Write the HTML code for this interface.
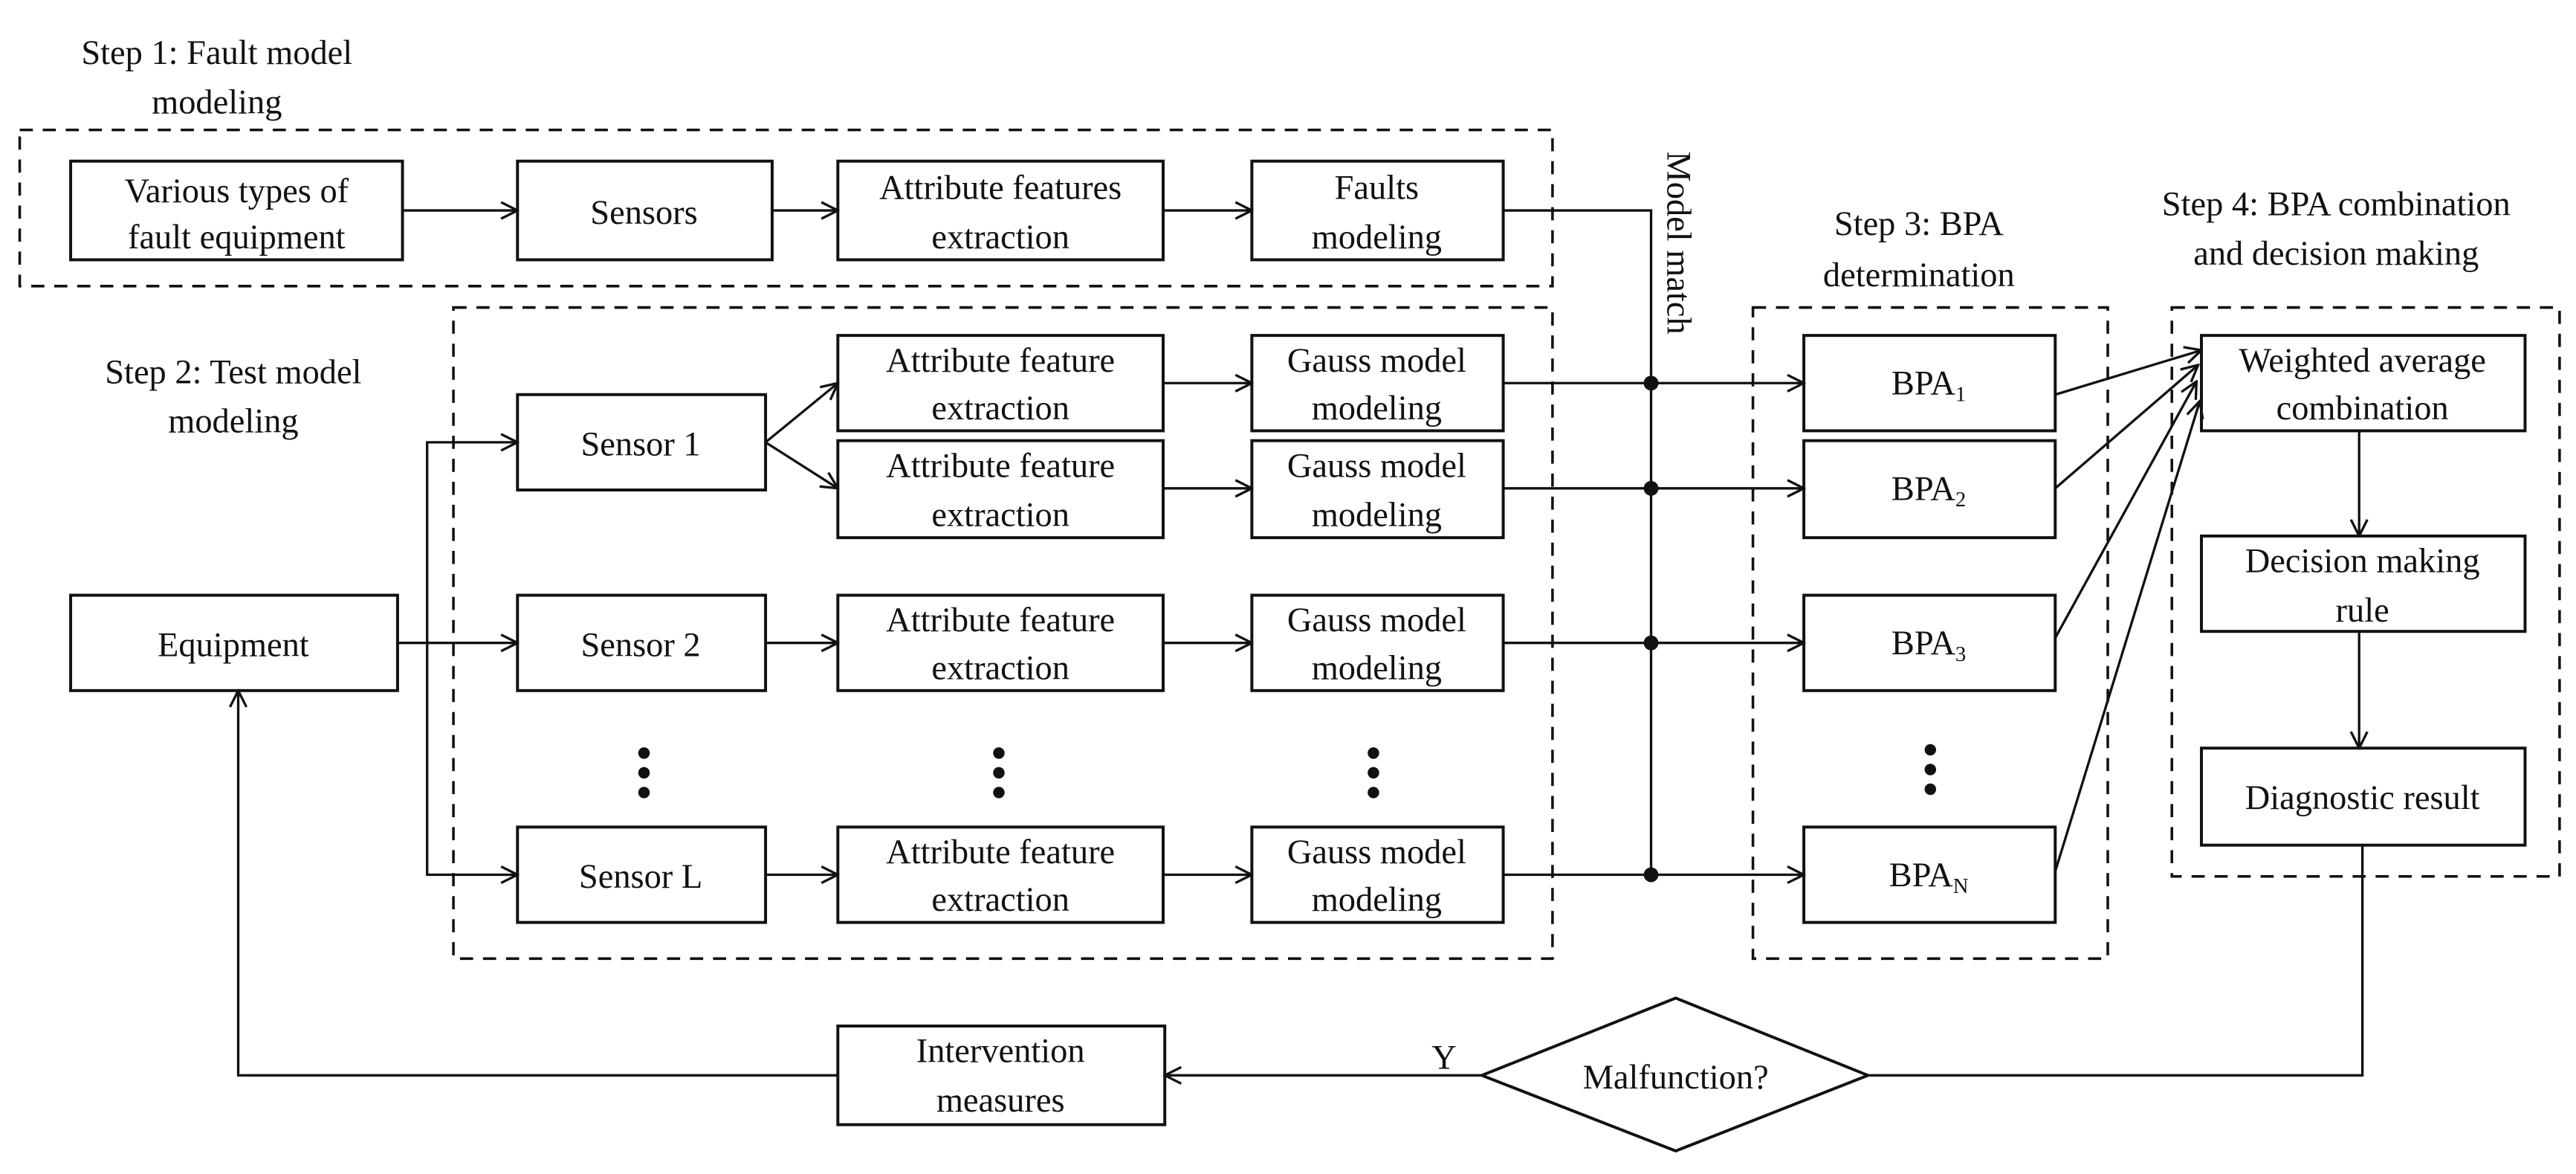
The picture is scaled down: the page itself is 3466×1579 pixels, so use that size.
<!DOCTYPE html>
<html><head><meta charset="utf-8"><style>
html,body{margin:0;padding:0;background:#fff;width:3466px;height:1579px;overflow:hidden}
svg{display:block}
text{font-family:"Liberation Serif",serif;font-size:21px;fill:#111}
</style></head><body>
<svg width="3466" height="1579" viewBox="0 0 1568 714" preserveAspectRatio="none" xmlns="http://www.w3.org/2000/svg">
<defs>
<marker id="a" viewBox="0 0 12 12" refX="11" refY="6" markerWidth="12" markerHeight="12" markerUnits="userSpaceOnUse" orient="auto">
<path d="M1,1 L11,6 L1,11" fill="none" stroke="#111" stroke-width="1.5"/>
</marker>
</defs>
<g fill="none" stroke="#111" stroke-width="1.6" stroke-dasharray="8,6">
<rect x="12" y="79" width="933" height="95"/>
<rect x="276" y="187" width="669" height="396"/>
<rect x="1067" y="187" width="216" height="396"/>
<rect x="1322" y="187" width="236" height="346"/>
</g>
<g fill="#fff" stroke="#111" stroke-width="1.8">
<rect x="43" y="98" width="202" height="60"/>
<rect x="315" y="98" width="155" height="60"/>
<rect x="510" y="98" width="198" height="60"/>
<rect x="762" y="98" width="153" height="60"/>
<rect x="315" y="240" width="151" height="58"/>
<rect x="315" y="362" width="151" height="58"/>
<rect x="315" y="503" width="151" height="58"/>
<rect x="510" y="204" width="198" height="58"/>
<rect x="510" y="268" width="198" height="59"/>
<rect x="510" y="362" width="198" height="58"/>
<rect x="510" y="503" width="198" height="58"/>
<rect x="762" y="204" width="153" height="58"/>
<rect x="762" y="268" width="153" height="59"/>
<rect x="762" y="362" width="153" height="58"/>
<rect x="762" y="503" width="153" height="58"/>
<rect x="43" y="362" width="199" height="58"/>
<rect x="1098" y="204" width="153" height="58"/>
<rect x="1098" y="268" width="153" height="59"/>
<rect x="1098" y="362" width="153" height="58"/>
<rect x="1098" y="503" width="153" height="58"/>
<rect x="1340" y="204" width="197" height="58"/>
<rect x="1340" y="326" width="197" height="58"/>
<rect x="1340" y="455" width="197" height="59"/>
<rect x="510" y="624" width="199" height="60"/>
<polygon points="902,654 1020,607 1137,654 1020,700"/>
</g>
<g fill="none" stroke="#111" stroke-width="1.5" marker-end="url(#a)">
<line x1="245" y1="128" x2="315" y2="128"/>
<line x1="470" y1="128" x2="510" y2="128"/>
<line x1="708" y1="128" x2="762" y2="128"/>
<line x1="466" y1="269" x2="510" y2="233"/>
<line x1="466" y1="269" x2="510" y2="297"/>
<line x1="708" y1="233" x2="762" y2="233"/>
<line x1="708" y1="297" x2="762" y2="297"/>
<line x1="708" y1="391" x2="762" y2="391"/>
<line x1="708" y1="532" x2="762" y2="532"/>
<line x1="466" y1="391" x2="510" y2="391"/>
<line x1="466" y1="532" x2="510" y2="532"/>
<line x1="242" y1="391" x2="315" y2="391"/>
<polyline points="260,391 260,269 315,269"/>
<polyline points="260,391 260,532 315,532"/>
<line x1="915" y1="233" x2="1098" y2="233"/>
<line x1="915" y1="297" x2="1098" y2="297"/>
<line x1="915" y1="391" x2="1098" y2="391"/>
<line x1="915" y1="532" x2="1098" y2="532"/>
<line x1="1251" y1="240" x2="1340" y2="213"/>
<line x1="1251" y1="297" x2="1338" y2="222"/>
<line x1="1251" y1="388" x2="1337" y2="232"/>
<line x1="1251" y1="530" x2="1339" y2="244"/>
<line x1="1436" y1="262" x2="1436" y2="326"/>
<line x1="1436" y1="384" x2="1436" y2="455"/>
<line x1="902" y1="654" x2="709" y2="654"/>
<polyline points="510,654 145,654 145,420"/>
</g>
<g fill="none" stroke="#111" stroke-width="1.5">
<polyline points="915,128 1005,128 1005,532"/>
<polyline points="1438,514 1438,654 1137,654"/>
</g>
<g fill="#111">
<circle cx="1005" cy="233" r="4.5"/><circle cx="1005" cy="297" r="4.5"/>
<circle cx="1005" cy="391" r="4.5"/><circle cx="1005" cy="532" r="4.5"/>
<circle cx="392" cy="458" r="3.5"/><circle cx="392" cy="470" r="3.5"/><circle cx="392" cy="482" r="3.5"/>
<circle cx="608" cy="458" r="3.5"/><circle cx="608" cy="470" r="3.5"/><circle cx="608" cy="482" r="3.5"/>
<circle cx="836" cy="458" r="3.5"/><circle cx="836" cy="470" r="3.5"/><circle cx="836" cy="482" r="3.5"/>
<circle cx="1175" cy="456" r="3.5"/><circle cx="1175" cy="468" r="3.5"/><circle cx="1175" cy="480" r="3.5"/>
</g>
<g text-anchor="middle">
<text x="132" y="39">Step 1: Fault model</text>
<text x="132" y="69">modeling</text>
<text x="142" y="233">Step 2: Test model</text>
<text x="142" y="263">modeling</text>
<text x="1168" y="143">Step 3: BPA</text>
<text x="1168" y="174">determination</text>
<text x="1422" y="131">Step 4: BPA combination</text>
<text x="1422" y="161">and decision making</text>
<text x="144" y="123">Various types of</text>
<text x="144" y="151">fault equipment</text>
<text x="392" y="136">Sensors</text>
<text x="609" y="121">Attribute features</text>
<text x="609" y="151">extraction</text>
<text x="838" y="121">Faults</text>
<text x="838" y="151">modeling</text>
<text x="390" y="277">Sensor 1</text>
<text x="390" y="399">Sensor 2</text>
<text x="390" y="540">Sensor L</text>
<text x="609" y="226">Attribute feature</text><text x="609" y="255">extraction</text>
<text x="609" y="290">Attribute feature</text><text x="609" y="320">extraction</text>
<text x="609" y="384">Attribute feature</text><text x="609" y="413">extraction</text>
<text x="609" y="525">Attribute feature</text><text x="609" y="554">extraction</text>
<text x="838" y="226">Gauss model</text><text x="838" y="255">modeling</text>
<text x="838" y="290">Gauss model</text><text x="838" y="320">modeling</text>
<text x="838" y="384">Gauss model</text><text x="838" y="413">modeling</text>
<text x="838" y="525">Gauss model</text><text x="838" y="554">modeling</text>
<text x="142" y="399">Equipment</text>
<text x="1174" y="240">BPA<tspan font-size="13" dy="4">1</tspan></text>
<text x="1174" y="304">BPA<tspan font-size="13" dy="4">2</tspan></text>
<text x="1174" y="398">BPA<tspan font-size="13" dy="4">3</tspan></text>
<text x="1174" y="539">BPA<tspan font-size="13" dy="4">N</tspan></text>
<text x="1438" y="226">Weighted average</text>
<text x="1438" y="255">combination</text>
<text x="1438" y="348">Decision making</text>
<text x="1438" y="378">rule</text>
<text x="1438" y="492">Diagnostic result</text>
<text x="609" y="646">Intervention</text>
<text x="609" y="676">measures</text>
<text x="1020" y="662">Malfunction?</text>
<text x="879" y="650">Y</text>
</g>
<text transform="translate(1015,92) rotate(90)">Model match</text>
</svg>
</body></html>
